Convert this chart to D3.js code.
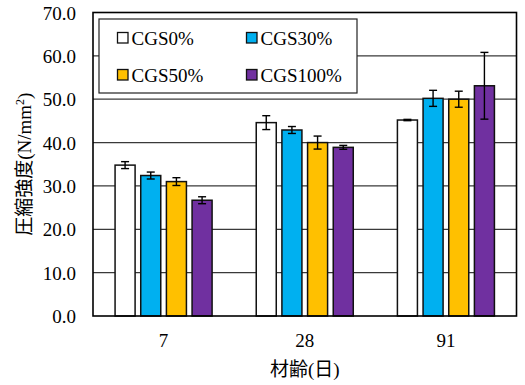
<!DOCTYPE html>
<html>
<head>
<meta charset="utf-8">
<script src="https://cdn.jsdelivr.net/npm/d3@7"></script>
<style>
  html, body { margin: 0; padding: 0; background: #fff; }
  svg { display: block; }
  text { font-family: "Liberation Serif", "Times New Roman", "Noto Sans CJK JP", serif; fill: #000; }
</style>
</head>
<body>
<svg id="chart" width="525" height="385"></svg>
<script>
// Curing age categories (days)
const categories = ["7", "28", "91"];
// Mix series
const seriesNames = ["CGS0%", "CGS30%", "CGS50%", "CGS100%"];
const seriesColors = ["#FFFFFF", "#00B0F0", "#FFC000", "#7030A0"];
// Mean compressive strength per series (N/mm2), one value per age
const cgs0 = [34.8, 44.6, 45.2];
const cgs30 = [32.4, 42.9, 50.2];
const cgs50 = [31.0, 40.0, 50.0];
const cgs100 = [26.7, 38.9, 53.1];
// Error bar half-lengths
const err0 = [0.8, 1.6, 0.15];
const err30 = [0.8, 0.8, 1.85];
const err50 = [0.9, 1.5, 1.85];
const err100 = [0.8, 0.45, 7.7];
// Y axis ticks
const yTicks = [0, 10, 20, 30, 40, 50, 60, 70];

const means = [cgs0, cgs30, cgs50, cgs100];
const errs = [err0, err30, err50, err100];

const svg = d3.select("#chart");
const W = 525, H = 385;
const m = { left: 93, right: 8.5, top: 12.5, bottom: 69 };
const plotL = m.left, plotR = W - m.right, plotT = m.top, plotB = H - m.bottom;

const y = d3.scaleLinear().domain([0, 70]).range([plotB, plotT]);
const x0 = d3.scaleBand().domain(categories).range([plotL, plotR]).padding(0);
const x1 = d3.scaleBand().domain(seriesNames).range([0, x0.bandwidth()])
  .paddingInner(0.22).paddingOuter(0.86);

// Horizontal gridlines
svg.append("g").selectAll("line")
  .data(yTicks.filter(t => t > 0 && t < 70))
  .join("line")
  .attr("x1", plotL).attr("x2", plotR)
  .attr("y1", d => y(d)).attr("y2", d => y(d))
  .attr("stroke", "#3a3a3a").attr("stroke-width", 1.2);

// Y tick labels
svg.append("g").selectAll("text")
  .data(yTicks)
  .join("text")
  .attr("x", 76).attr("y", d => y(d) + 7)
  .attr("text-anchor", "end")
  .attr("font-size", 19)
  .text(d => d3.format(".1f")(d));

// Bars
const rows = [];
seriesNames.forEach((s, si) => {
  categories.forEach((c, ci) => {
    rows.push({ s, si, c, v: means[si][ci], e: errs[si][ci] });
  });
});

svg.append("g").selectAll("rect")
  .data(rows)
  .join("rect")
  .attr("x", d => x0(d.c) + x1(d.s))
  .attr("y", d => y(d.v))
  .attr("width", x1.bandwidth())
  .attr("height", d => y(0) - y(d.v))
  .attr("fill", d => seriesColors[d.si])
  .attr("stroke", "#111")
  .attr("stroke-width", 1.5);

// Error bars
const eg = svg.append("g").attr("stroke", "#000").attr("stroke-width", 1.4);
rows.forEach(d => {
  const cx = x0(d.c) + x1(d.s) + x1.bandwidth() / 2;
  const yt = y(d.v + d.e), yb = y(d.v - d.e);
  eg.append("line").attr("x1", cx).attr("x2", cx).attr("y1", yt).attr("y2", yb);
  eg.append("line").attr("x1", cx - 4).attr("x2", cx + 4).attr("y1", yt).attr("y2", yt);
  eg.append("line").attr("x1", cx - 4).attr("x2", cx + 4).attr("y1", yb).attr("y2", yb);
});

// Plot frame
svg.append("rect")
  .attr("x", plotL).attr("y", plotT)
  .attr("width", plotR - plotL).attr("height", plotB - plotT)
  .attr("fill", "none").attr("stroke", "#000").attr("stroke-width", 1.6);

// X category labels
svg.append("g").selectAll("text")
  .data(categories)
  .join("text")
  .attr("x", d => x0(d) + x0.bandwidth() / 2)
  .attr("y", 347)
  .attr("text-anchor", "middle")
  .attr("font-size", 19)
  .text(d => d);

// X axis title
svg.append("text")
  .attr("x", (plotL + plotR) / 2).attr("y", 376)
  .attr("text-anchor", "middle")
  .attr("font-size", 19)
  .text("材齢(日)");

// Y axis title
const yt = svg.append("text")
  .attr("transform", `translate(31,${(plotT + plotB) / 2}) rotate(-90)`)
  .attr("text-anchor", "middle")
  .attr("font-size", 19);
yt.append("tspan").text("圧縮強度(N/mm");
yt.append("tspan").attr("font-size", 12).attr("dy", -7).text("2");
yt.append("tspan").attr("dy", 7).text(")");

// Legend
const lg = svg.append("g");
lg.append("rect")
  .attr("x", 99).attr("y", 19).attr("width", 258).attr("height", 74)
  .attr("fill", "#fff").attr("stroke", "#222").attr("stroke-width", 1.2);
const legPos = [[118, 38], [247, 38], [118, 75], [247, 75]];
seriesNames.forEach((s, i) => {
  const [lx, ly] = legPos[i];
  lg.append("rect")
    .attr("x", lx - 0.5).attr("y", ly - 5.5).attr("width", 10.5).attr("height", 10.5)
    .attr("fill", seriesColors[i]).attr("stroke", "#111").attr("stroke-width", 1.3);
  lg.append("text")
    .attr("x", lx + 13.5).attr("y", ly + 6.5)
    .attr("font-size", 19)
    .text(s);
});
</script>
</body>
</html>
